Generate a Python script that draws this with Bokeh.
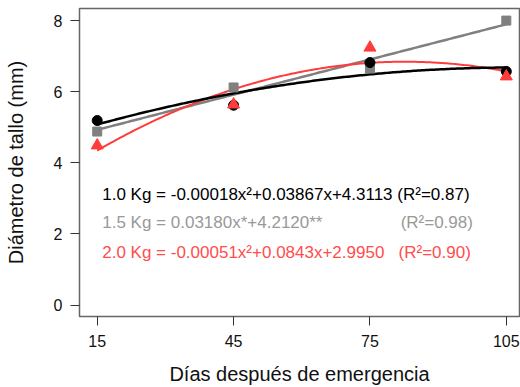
import numpy as np
from bokeh.plotting import figure
from bokeh.models import Range1d, FixedTicker
from bokeh.core.properties import value
from bokeh.embed import file_html
from bokeh.resources import INLINE

# ---- data ----
days = [15, 45, 75, 105]
kg10 = [5.19, 5.62, 6.82, 6.57]
kg15 = [4.88, 6.12, 6.65, 8.00]
kg20 = [4.49, 5.64, 7.24, 6.43]
x_ticks = [15, 45, 75, 105]
y_ticks = [0, 2, 4, 6, 8]
eq_labels = [
    "1.0 Kg = -0.00018x\u00b2+0.03867x+4.3113 (R\u00b2=0.87)",
    "1.5 Kg = 0.03180x*+4.2120**",
    "2.0 Kg = -0.00051x\u00b2+0.0843x+2.9950",
]
r2_labels = ["", "(R\u00b2=0.98)", "(R\u00b2=0.90)"]
eq_y = [3.11, 2.31, 1.49]
eq_x = 16.1
r2_x = [81.2, 81.75, 81.3]

BLACK = "#000000"
GRAY = "#808080"
RED = "#ff3b3b"
TEXT_COLORS = ["#000000", "#999999", "#ff4d4d"]
FONT = "Liberation Sans"

p = figure(width=520, height=387, output_backend="svg", toolbar_location=None,
           x_range=Range1d(11.1, 107.9), y_range=Range1d(-0.32, 8.34),
           min_border_left=79, min_border_right=1, min_border_top=8, min_border_bottom=70)
p.grid.visible = False
p.outline_line_color = "#666666"
p.outline_line_width = 1.5
p.background_fill_color = "white"

for ax in (p.xaxis[0], p.yaxis[0]):
    ax.axis_line_color = "#666666"
    ax.major_tick_line_color = "#333333"
    ax.major_tick_out = 9
    ax.major_tick_in = 0
    ax.minor_tick_line_color = None
    ax.major_label_text_font = FONT
    ax.major_label_text_font_size = "16px"
    ax.major_label_text_color = "#111111"
    ax.axis_label_text_font = FONT
    ax.axis_label_text_font_size = "20px"
    ax.axis_label_text_font_style = "normal"
    ax.axis_label_text_color = "#111111"
    ax.major_label_standoff = 8

p.xaxis.ticker = FixedTicker(ticks=x_ticks)
p.yaxis.ticker = FixedTicker(ticks=y_ticks)
p.xaxis.axis_label = "Días después de emergencia"
p.yaxis.axis_label = "Diámetro de tallo (mm)"
p.xaxis.major_label_standoff = 9
p.xaxis.axis_label_standoff = 13
p.yaxis.axis_label_standoff = 24

xs = np.linspace(min(days), max(days), 200)
f10 = np.polyval(np.polyfit(days, kg10, 2), xs)
f15 = np.polyval(np.polyfit(days, kg15, 1), xs)
f20 = np.polyval(np.polyfit(days, kg20, 2), xs)

p.line(xs, f15, line_color=GRAY, line_width=2.5)
p.line(xs, f20, line_color=RED, line_width=2)
p.line(xs, f10, line_color=BLACK, line_width=2.5)

p.scatter(days, kg15, marker="square", size=9, color=GRAY)
p.scatter(days, kg10, marker="circle", size=10, color=BLACK)
p.scatter(days, kg20, marker="triangle", size=12, color=RED)

for i in range(3):
    p.text(x=[eq_x], y=[eq_y[i]], text=[eq_labels[i]], text_font=value(FONT),
           text_font_size="17px", text_color=TEXT_COLORS[i], text_baseline="middle",
           text_align="left")
    if r2_labels[i]:
        p.text(x=[r2_x[i]], y=[eq_y[i]], text=[r2_labels[i]], text_font=value(FONT),
               text_font_size="17px", text_color=TEXT_COLORS[i], text_baseline="middle",
               text_align="left")

open("out.html", "w").write(file_html(p, INLINE))
